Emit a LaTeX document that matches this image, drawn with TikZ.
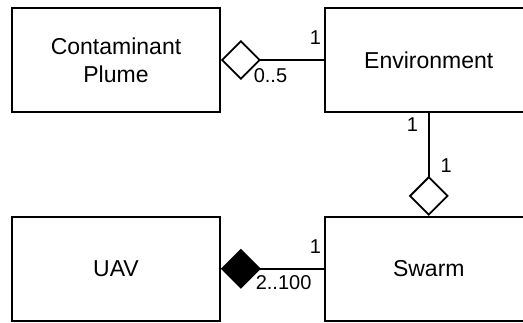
\documentclass[tikz,border=0pt]{standalone}
\usepackage{fontspec}
\setmainfont{Liberation Sans}
\usetikzlibrary{arrows.meta,positioning}

\begin{document}
\begin{tikzpicture}[x=1pt, y=-1pt,
    class/.style={draw, line width=1.8pt, minimum width=208pt, minimum height=104pt,
      align=center, font=\fontsize{23}{28}\selectfont},
    mult/.style={font=\fontsize{20}{24}\selectfont, inner sep=0pt},
    aggr/.style={line width=1.8pt, -{Diamond[open, length=40pt, width=40pt, line width=1.8pt]}},
    comp/.style={line width=1.8pt, -{Diamond[length=40pt, width=40pt]}}]
  \clip (0,0) rectangle (523,322);

  % Classes
  \node[class] (plume) at (116,60) {Contaminant\\Plume};
  \node[class, right=103pt of plume] (env) {Environment};
  \node[class, below=103pt of plume] (uav) {UAV};
  \node[class, below=103pt of env] (swarm) {Swarm};

  % Aggregations
  \draw[aggr] (env.west) -- (plume.east)
    node[mult, pos=0, anchor=base east, xshift=-2pt, yshift=15.5pt] {1}
    node[mult, pos=1, anchor=base west, xshift=32pt, yshift=-22.5pt] {0..5};
  \draw[aggr] (env.south) -- (swarm.north)
    node[mult, pos=0, anchor=base east, xshift=-10pt, yshift=-19pt] {1}
    node[mult, pos=1, anchor=base west, xshift=11pt, yshift=43pt] {1};

  % Composition
  \draw[comp] (swarm.west) -- (uav.east)
    node[mult, pos=0, anchor=base east, xshift=-2pt, yshift=15.5pt] {1}
    node[mult, pos=1, anchor=base west, xshift=34pt, yshift=-21pt] {2..100};
\end{tikzpicture}
\end{document}
